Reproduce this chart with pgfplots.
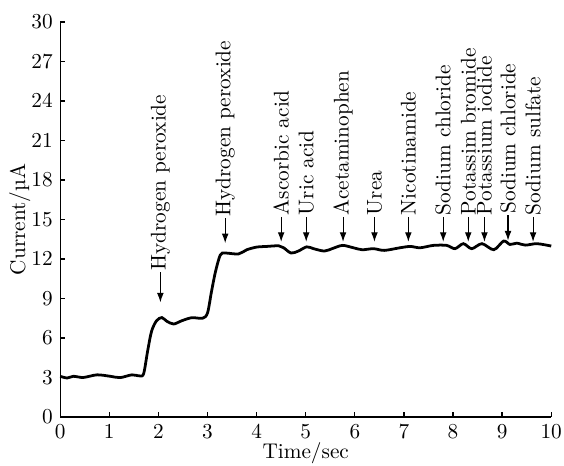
\documentclass[border=0pt]{standalone}
\usepackage{pgfplots}
\pgfplotsset{compat=1.18}
\usetikzlibrary{arrows.meta}
\newcommand\ann[4]{%
  \draw[-{Latex[length=4.5pt,width=3.2pt]}, line width=0.5pt]
    (axis cs:#1,#3) -- (axis cs:#1,#2);
  \node[rotate=90, anchor=west, inner sep=0.6pt] at (axis cs:#1,#3) {#4};
}
\begin{document}
\begin{tikzpicture}
\begin{axis}[
  scale only axis,
  width=230.8pt, height=185.7pt,
  xmin=0, xmax=10, ymin=0, ymax=30,
  xtick={0,1,...,10},
  ytick={0,3,...,30},
  axis x line*=bottom, axis y line*=left,
  axis line style={-, line width=0.6pt},
  major tick length=2.4pt,
  tick style={line width=0.6pt, black},
  tick align=inside,
  xlabel={Time/sec},
  ylabel={Current/\textmu A},
  xlabel style={yshift=5pt},
  ylabel style={yshift=-6.4pt},
  clip=false,
]
\addplot[black, line width=1.3pt, smooth] coordinates {
(0,3.09) (0.14,2.96) (0.27,3.09) (0.47,3.0) (0.75,3.2) (1.02,3.09) (1.22,2.99)
(1.46,3.2) (1.62,3.12) (1.70,3.3) (1.78,5.0) (1.86,6.5) (1.96,7.3) (2.07,7.55)
(2.17,7.27) (2.31,7.06) (2.47,7.3) (2.68,7.54) (2.90,7.5) (3.0,7.9) (3.08,9.5)
(3.16,11.0) (3.26,12.3) (3.36,12.45) (3.63,12.38) (3.80,12.7) (4.0,12.9)
(4.2,12.95) (4.45,13.0) (4.55,12.85) (4.7,12.45) (4.85,12.6) (5.02,12.92)
(5.16,12.78) (5.38,12.6) (5.55,12.8) (5.75,13.03) (5.97,12.85) (6.15,12.7)
(6.38,12.78) (6.6,12.65) (6.92,12.85) (7.13,12.95) (7.33,12.85) (7.6,13.03)
(7.87,13.03) (8.04,12.78) (8.21,13.16) (8.38,12.78) (8.59,13.16) (8.83,12.7)
(9.03,13.36) (9.16,13.1) (9.3,13.2) (9.47,13.05) (9.71,13.16) (10.0,12.98)
};
\ann{2.04}{8.7}{11.0}{Hydrogen peroxide}
\ann{3.36}{13.2}{15.1}{Hydrogen peroxide}
\ann{4.50}{13.3}{15.2}{Ascorbic acid}
\ann{5.01}{13.3}{15.2}{Uric acid}
\ann{5.76}{13.3}{15.2}{Acetaminophen}
\ann{6.40}{13.3}{15.2}{Urea}
\ann{7.09}{13.3}{15.2}{Nicotinamide}
\ann{7.80}{13.3}{15.2}{Sodium chloride}
\ann{8.31}{13.3}{15.2}{Potassim bromide}
\ann{8.64}{13.3}{15.2}{Potassium iodide}
\ann{9.12}{13.4}{15.3}{Sodium chloride}
\ann{9.63}{13.3}{15.2}{Sodium sulfate}
\end{axis}
\pgfresetboundingbox
\path (current axis.south west) ++(-28.3pt,-22.6pt) rectangle ++(265.1pt,218.6pt);
\end{tikzpicture}
\end{document}
